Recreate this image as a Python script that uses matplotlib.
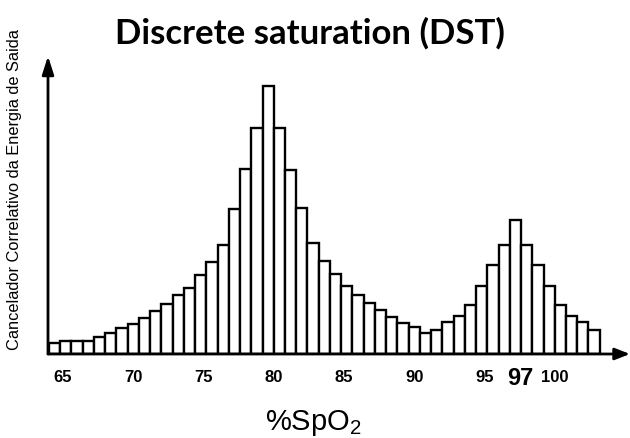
import matplotlib
matplotlib.use('Agg')
import matplotlib.pyplot as plt
import numpy as np

plt.rcParams['font.family'] = 'Liberation Sans'

# bar heights (arbitrary units), one bar every 0.8 %SpO2
counts = [11, 13, 13, 13, 17, 21, 26, 30, 36, 43, 50, 59, 66, 79, 92, 109, 145,
          185, 226, 268, 226, 184, 146, 111, 93, 80, 68, 59, 51, 44, 37, 31, 27,
          21, 24, 32, 38, 49, 68, 89, 109, 134, 109, 89, 68, 49, 38, 32, 24]
bin_start = 64.4
bin_width = 0.8
spo2 = bin_start + bin_width * np.arange(len(counts))

tick_pos = [65, 70, 75, 80, 85, 90, 95, 97.56, 100]
tick_labels = ['65', '70', '75', '80', '85', '90', '95', '97', '100']

W, H = 630, 439
fig = plt.figure(figsize=(W / 100, H / 100), dpi=100)
ax = fig.add_axes([48 / W, 84 / H, (W - 48) / W, 298 / H])

ax.bar(spo2, counts, width=bin_width, color='white', edgecolor='black',
       linewidth=1.7, align='center')

x0 = 65 + (48 - 63) / 14.05
x1 = 65 + (W - 63) / 14.05
ax.set_xlim(x0, x1)
ax.set_ylim(0, 298)

for s in ax.spines.values():
    s.set_visible(False)
ax.set_yticks([])
ax.set_xticks(tick_pos)
ax.set_xticklabels(tick_labels, fontsize=12, fontweight='bold')
ax.tick_params(axis='x', length=0, pad=11)
for lbl in ax.get_xticklabels():
    if lbl.get_text() == '97':
        lbl.set_fontsize(17)
        lbl.set_y(0.012)

# axis lines with arrow heads
ax.annotate('', xy=(0, 1.0), xytext=(0, 0), xycoords='axes fraction',
            arrowprops=dict(arrowstyle='-|>,head_length=1.1,head_width=0.35',
                            lw=2, color='black', shrinkA=0, shrinkB=0))
ax.annotate('', xy=(1.0, 0), xytext=(0, 0), xycoords='axes fraction',
            arrowprops=dict(arrowstyle='-|>,head_length=0.9,head_width=0.35',
                            lw=2, color='black', shrinkA=0, shrinkB=0))

fig.text(310 / W, 1 - 44 / H, 'Discrete saturation (DST)', family='Lato',
         fontweight='bold', fontsize=25, ha='center', va='baseline')
fig.text(15 / W, 1 - 190 / H, 'Cancelador Correlativo da Energia de Saida',
         rotation=90, fontsize=11.8, ha='center', va='center')
fig.text(313 / W, 1 - 430 / H, '%SpO$_\\mathregular{2}$', fontsize=21,
         ha='center', va='baseline')

fig.savefig('out.png', dpi=100)
